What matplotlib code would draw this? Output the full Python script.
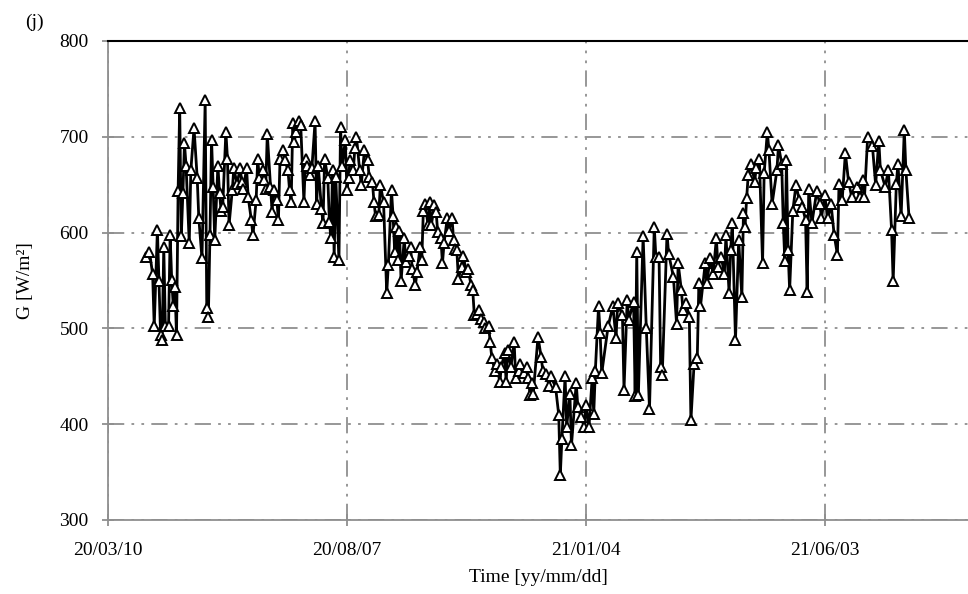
import numpy as np
import matplotlib
matplotlib.use("Agg")
import matplotlib.pyplot as plt
import matplotlib.dates as mdates

# days since 2020-03-10 and irradiance G [W/m2]
day = [24, 26, 28, 29, 31, 32, 33, 34, 35, 36, 38, 39, 40, 41, 42, 43, 44, 45, 46, 47,
       48, 49, 51, 52, 54, 56, 57, 59, 61, 62, 63, 64, 65, 66, 67, 69, 70, 71, 72, 74,
       75, 76, 78, 79, 81, 83, 84, 85, 87, 88, 90, 91, 93, 94, 95, 97, 98, 99, 100,
       102, 103, 104, 106, 107, 108, 110, 111, 113, 114, 115, 116, 117, 118, 120, 121,
       123, 124, 125, 127, 128, 130, 131, 132, 134, 135, 136, 138, 139, 140, 141, 142,
       143, 145, 146, 147, 149, 150, 151, 152, 154, 155, 156, 158, 159, 161, 163, 164,
       166, 167, 168, 170, 171, 173, 175, 176, 178, 179, 180, 181, 182,
       183, 184, 186, 187, 189, 190, 191, 193, 194, 196, 197, 198, 199, 201, 202, 203,
       205, 206, 207, 209, 210, 211, 213, 214, 216, 217, 218, 219, 220, 222, 223, 225,
       226, 228, 229, 230, 232, 233, 234, 236, 237, 239, 240, 241, 243, 244, 246, 247,
       249, 250, 251, 253, 255, 256, 258, 259, 261, 263, 264, 265,
       266, 267, 270, 272, 273, 275, 277, 278, 281, 283, 284, 285, 287, 288, 290, 291,
       294, 295, 297, 299, 300, 302, 304, 305, 306, 308, 309, 310, 314, 317, 319, 320,
       323, 324, 326, 327, 330, 331, 332, 333, 336, 338, 340, 343, 344,
       346, 347, 348, 351, 352, 355, 357, 358, 360, 361, 363, 365, 366, 368, 370, 371,
       372, 375, 376, 378, 380, 382, 383, 385, 387, 388, 390, 391, 392, 394, 396, 398,
       399, 400, 401, 402, 404, 406, 407, 409, 411, 412, 414, 415, 417, 420, 421, 423,
       424, 425, 426, 427, 428,
       430, 432, 434, 436, 438, 439, 440, 442, 445, 447, 448, 450, 452, 454, 456, 458,
       459, 461, 463, 465, 467, 470, 472, 474, 475, 477, 480, 482, 484, 485, 488, 490,
       492, 493, 495, 496, 498, 500, 501, 503]
G = [575, 580, 557, 502, 603, 549, 493, 488, 585, 502, 502, 597, 550, 523, 543, 493, 643, 730, 596, 641,
     693, 670, 589, 665, 709, 657, 615, 573, 738, 521, 512, 597, 697, 648, 592, 670, 641, 623, 627, 705,
     677, 608, 644, 667, 651, 667, 653, 646, 667, 637, 613, 597, 634, 677, 657, 665, 655, 646, 703,
     648, 622, 644, 634, 613, 677, 686, 676, 665, 644, 632, 714, 695, 705, 716, 712,
     632, 677, 670, 660, 667, 716, 630, 670, 625, 610, 677, 657, 611, 594, 665, 575,
     658, 571, 710, 669, 697, 644, 657, 676, 665, 688, 700, 665, 650, 686, 676, 658,
     653, 632, 617, 618, 650, 632, 537, 566, 644, 617, 580, 606, 571,
     602, 549, 594, 569, 576, 585, 562, 545, 559, 585, 571, 623, 630, 608, 632, 608,
     629, 622, 601, 594, 568, 589, 615, 602, 615, 592, 583, 582, 552, 564, 576, 559,
     562, 545, 540, 514, 515, 519, 510, 507, 500, 502, 486, 469, 456, 463, 444, 460,
     474, 444, 477, 460, 486, 448, 456, 463, 453, 460, 448, 430,
     443, 432, 491, 470, 456, 452, 440, 450, 439, 410, 347, 385, 450, 397, 432, 378,
     443, 418, 408, 397, 420, 397, 448, 411, 456, 523, 495, 453, 502, 523, 490, 526,
     514, 436, 530, 509, 528, 429, 580, 430, 596, 500, 416, 606, 575,
     575, 460, 451, 599, 578, 554, 505, 568, 540, 519, 526, 512, 404, 463, 469, 547,
     523, 568, 547, 573, 557, 594, 564, 575, 557, 597, 537, 582, 610, 488, 592, 533,
     620, 606, 636, 660, 672, 653, 667, 677, 568, 662, 705, 686, 630, 665, 691, 672,
     610, 570, 676, 582, 540,
     623, 650, 634, 627, 613, 538, 646, 610, 643, 630, 615, 639, 615, 630, 597, 577,
     651, 634, 683, 653, 637, 648, 637, 655, 637, 700, 690, 650, 696, 665, 648, 665,
     603, 549, 651, 672, 617, 707, 665, 615]

start = np.datetime64("2020-03-10")
tick_days = [0, 150, 300, 450]
end_day = 540

plt.rcParams["font.family"] = ["Liberation Serif", "DejaVu Serif"]
plt.rcParams["font.size"] = 14

fig = plt.figure(figsize=(9.68, 5.94), dpi=100)
ax = fig.add_axes([0.1116, 0.1246, 0.8884, 0.8064])

dates = start + np.array(day).astype("timedelta64[D]")
ax.plot(dates, G, color="black", lw=2.0, marker="^", ms=6.5,
        mfc="white", mec="black", mew=1.4, zorder=3)

ax.set_xlim(start, start + np.timedelta64(end_day, "D"))
ax.set_ylim(300, 800)
ax.set_yticks([300, 400, 500, 600, 700, 800])
ax.set_xticks(start + np.array(tick_days).astype("timedelta64[D]"))
ax.xaxis.set_major_formatter(mdates.DateFormatter("%y/%m/%d"))

grid_ls = (0, (9, 4, 1.5, 4, 1.5, 4))
ax.grid(True, color="#8f8f8f", lw=1.3, linestyle=grid_ls, zorder=1)

for s in ["left", "bottom"]:
    ax.spines[s].set_color("#8f8f8f")
    ax.spines[s].set_linewidth(1.3)
ax.spines["right"].set_visible(False)
ax.spines["top"].set_color("black")
ax.spines["top"].set_linewidth(1.5)

ax.tick_params(axis="both", direction="inout", length=8, width=1.3,
               color="#8f8f8f", labelcolor="black")
ax.tick_params(axis="y", pad=10)
ax.tick_params(axis="x", pad=12)

ax.set_xlabel("Time [yy/mm/dd]", labelpad=7)
ax.set_ylabel("G [W/m²]", labelpad=18)
fig.text(0.026, 0.962, "(j)", fontsize=14, ha="left", va="center")

fig.savefig("out.png", dpi=100)
